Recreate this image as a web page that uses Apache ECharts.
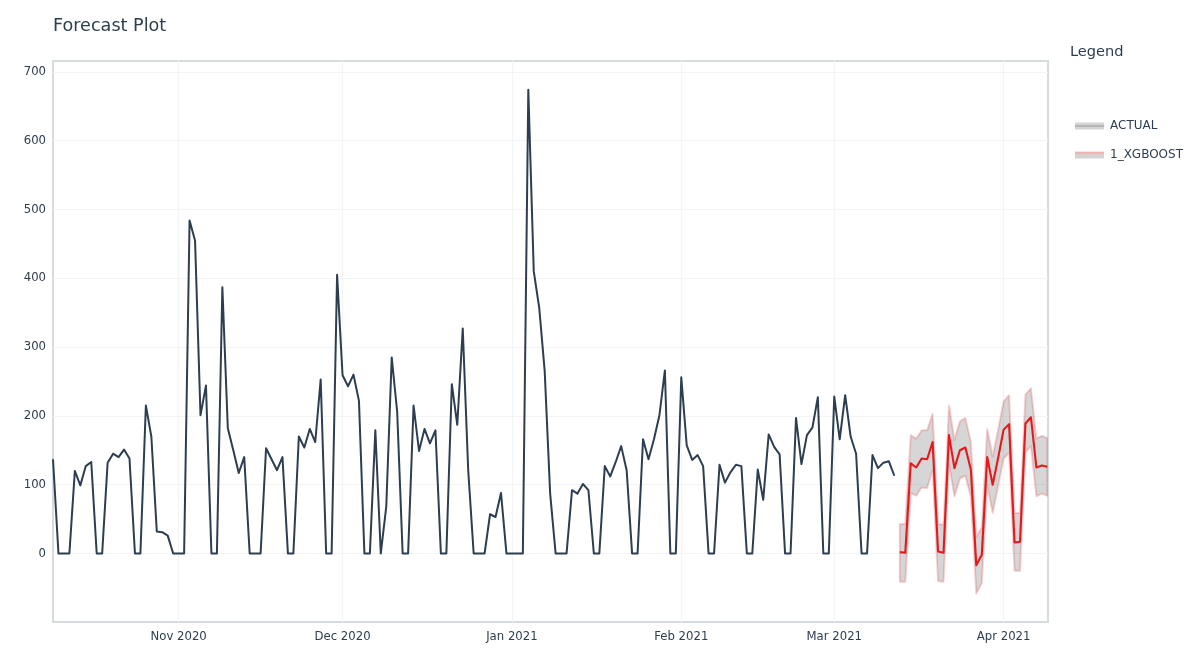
<!DOCTYPE html>
<html>
<head>
<meta charset="utf-8">
<style>html,body{margin:0;padding:0;background:#fff}#c{width:1200px;height:665px}</style>
<script src="https://cdn.jsdelivr.net/npm/echarts@6/dist/echarts.min.js"></script>
</head>
<body>
<div id="c"></div>
<script>
const actualStart = '2020-10-09';
const actualValues = [137,0,0,0,120,99,127,133,0,0,132,145,140,151,138,0,0,215,170,32,31,26,0,0,0,484,455,201,244,0,0,387,182,150,117,140,0,0,0,153,137,121,140,0,0,170,154,181,162,253,0,0,405,259,243,260,222,0,0,179,0,68,285,206,0,0,215,149,181,160,179,0,0,246,187,327,121,0,0,0,57,53,88,0,0,0,0,674,410,357,265,87,0,0,0,92,87,101,92,0,0,127,112,133,156,121,0,0,166,137,166,201,266,0,0,256,157,136,143,127,0,0,129,103,118,129,127,0,0,122,78,173,155,144,0,0,197,130,172,183,227,0,0,228,166,230,170,145,0,0,143,124,132,134,113];
const forecastStart = '2021-03-13';
const forecastValues = [2,1,131,125,138,137,162,3,1,172,124,150,154,122,-17,-2,140,100,139,180,188,16,17,189,198,125,128,126];
const forecastUpper = [43,43,172,167,179,179,203,43,42,215,165,192,197,162,24,38,181,141,180,221,230,59,59,231,240,167,171,168];
const forecastLower = [-41,-41,88,84,96,95,121,-40,-41,130,83,109,113,82,-58,-43,99,59,98,138,146,-25,-25,147,156,83,87,84];
const yTicks = [0,100,200,300,400,500,600,700];
const monthTicks = ['2020-11-01','2020-12-01','2021-01-01','2021-02-01','2021-03-01','2021-04-01'];
const monthLabels = ['Nov 2020','Dec 2020','Jan 2021','Feb 2021','Mar 2021','Apr 2021'];

const DAY = 86400000;
const t = s => Date.parse(s + 'T00:00:00Z');
const actualData = actualValues.map((v, i) => [t(actualStart) + i * DAY, v]);
const forecastData = forecastValues.map((v, i) => [t(forecastStart) + i * DAY, v]);
const bandData = forecastValues.map((v, i) => [t(forecastStart) + i * DAY, forecastLower[i], forecastUpper[i]]);
const monthTimes = monthTicks.map(t);
const INK = '#2c3e50';
const FONT = '"DejaVu Sans", Verdana, sans-serif';
const bar = (line, a, b) => ({type:'linear',x:0,y:0,x2:0,y2:1,colorStops:[
  {offset:0,color:'#d3d3d3'},{offset:a,color:'#d3d3d3'},{offset:a,color:line},{offset:b,color:line},{offset:b,color:'#d3d3d3'},{offset:1,color:'#d3d3d3'}]});

const chart = echarts.init(document.getElementById('c'), null, {renderer:'canvas'});
chart.setOption({
  animation:false,
  backgroundColor:'#fff',
  textStyle:{fontFamily:FONT},
  title:[
    {text:'Forecast Plot',left:53,top:17,textStyle:{color:INK,fontSize:17.6,fontWeight:'normal',fontFamily:FONT},padding:0},
    {text:'Legend',left:1070,top:45,textStyle:{color:INK,fontSize:14.6,fontWeight:'normal',fontFamily:FONT},padding:0}
  ],
  legend:{
    left:1075,top:120,orient:'vertical',itemWidth:29,itemHeight:7,itemGap:17,padding:0,selectedMode:false,
    icon:'rect',
    textStyle:{color:INK,fontSize:12,fontFamily:FONT,padding:[1,0,0,1]},
    data:[
      {name:'ACTUAL',itemStyle:{color:bar('#b4b6b8',0.42,0.62),borderWidth:0}},
      {name:'1_XGBOOST',itemStyle:{color:bar('#efb3b3',0.14,0.42),borderWidth:0}}
    ]
  },
  grid:{left:53,right:152,top:61,bottom:43,show:true,borderColor:'#d6dbdf',borderWidth:2,backgroundColor:'transparent'},
  xAxis:{
    type:'value',
    scale:true,
    min:t(actualStart),
    max:t('2021-04-09')+3*3600000,
    axisLine:{show:false},
    axisTick:{show:false,customValues:monthTimes},
    axisLabel:{color:INK,fontSize:11.7,fontFamily:FONT,margin:9,hideOverlap:false,customValues:monthTimes,
      formatter:v=>monthLabels[monthTimes.indexOf(v)]||''},
    splitLine:{show:true,lineStyle:{color:'#f3f4f5',width:1.2}}
  },
  yAxis:{
    type:'value',
    min:-99.6,
    max:715.8,
    axisLine:{show:false},
    axisTick:{show:false,customValues:yTicks},
    axisLabel:{color:INK,fontSize:11.7,fontFamily:FONT,margin:7,customValues:yTicks},
    splitLine:{show:true,lineStyle:{color:'#f3f4f5',width:1.2}}
  },
  series:[
    {type:'custom',name:'band',silent:true,z:2,clip:true,data:bandData,encode:{x:0,y:[1,2]},
     renderItem:(params,api)=>{
       if(params.dataIndex!==0) return null;
       const top=bandData.map(d=>api.coord([d[0],d[2]]));
       const low=bandData.map(d=>api.coord([d[0],d[1]])).reverse();
       return {type:'polygon',shape:{points:top.concat(low)},
         style:{fill:'rgba(51,51,51,0.2)',stroke:'rgba(227,26,28,0.2)',lineWidth:2,lineJoin:'round'}};
     }},
    {type:'line',name:'ACTUAL',z:3,data:actualData,showSymbol:false,symbol:'none',
     itemStyle:{color:INK},lineStyle:{color:INK,width:2,join:'round'}},
    {type:'line',name:'1_XGBOOST',z:4,data:forecastData,showSymbol:false,symbol:'none',
     itemStyle:{color:'#e31a1c'},lineStyle:{color:'#e31a1c',width:2.1,join:'round'}}
  ]
});
</script>
</body>
</html>
